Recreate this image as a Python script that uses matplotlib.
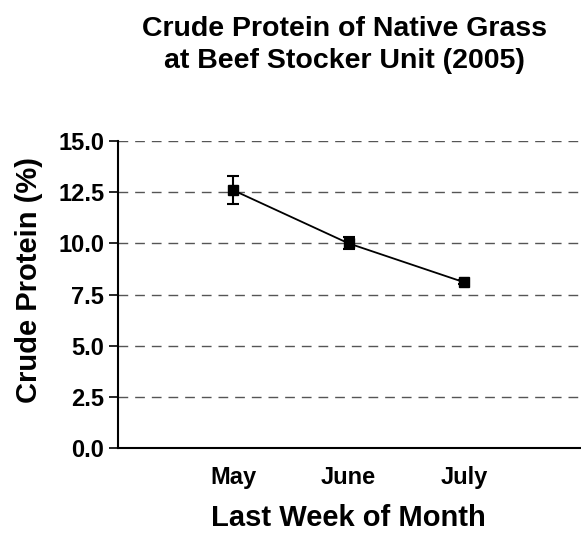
import matplotlib
matplotlib.use("Agg")
import matplotlib.pyplot as plt

months = ["May", "June", "July"]
protein = [12.6, 10.0, 8.1]
protein_err = [0.7, 0.3, 0.1]
yticks = [0.0, 2.5, 5.0, 7.5, 10.0, 12.5, 15.0]

plt.rcParams['font.family'] = ['Liberation Sans', 'DejaVu Sans']

W, H = 581, 533
fig = plt.figure(figsize=(W/100, H/100), dpi=100)
ax = fig.add_axes([117.5/W, 1 - 448/H, (579.5-117.5)/W, (448-141)/H])

x = list(range(1, len(months) + 1))
for yv in yticks[1:]:
    ax.axhline(yv, color='#555555', lw=1.0, ls=(0, (7, 5)), zorder=0)
ax.errorbar(x, protein, yerr=protein_err, color='black', marker='s', ms=7.5,
            lw=1.3, capsize=4, capthick=1.5, elinewidth=1.5, zorder=3)

ax.set_xlim(0, 4)
ax.set_ylim(0, 15)
ax.set_xticks(x)
ax.set_xticklabels(months, fontsize=17, fontweight='bold')
ax.set_yticks(yticks)
ax.set_yticklabels([f"{v:.1f}" for v in yticks], fontsize=17, fontweight='bold')
ax.tick_params(axis='x', length=0, pad=13)
ax.tick_params(axis='y', length=6.5, width=1.2, pad=3)
for s in ['top', 'right']:
    ax.spines[s].set_visible(False)
for s in ['left', 'bottom']:
    ax.spines[s].set_linewidth(1.5)

ax.set_xlabel("Last Week of Month", fontsize=21, fontweight='bold', labelpad=11)
fig.text(29.5/W, 1 - 280/H, "Crude Protein (%)", rotation=90, ha='center', va='center',
         fontsize=21, fontweight='bold')
fig.text(344/W, 1 - 45/H, "Crude Protein of Native Grass\nat Beef Stocker Unit (2005)",
         ha='center', va='center', fontsize=20.5, fontweight='bold', linespacing=1.3)

fig.savefig("out.png", dpi=100)
